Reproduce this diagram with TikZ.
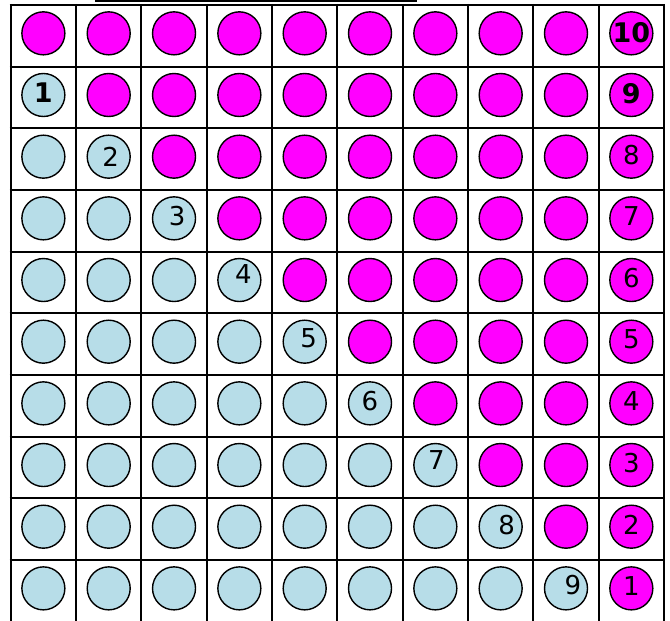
\documentclass[tikz,border=0pt]{standalone}
\usepackage{fontspec}
\setmainfont{DejaVu Sans}
\definecolor{mag}{HTML}{FF00FF}
\definecolor{lblue}{HTML}{B7DDE8}
\begin{document}
\begin{tikzpicture}[x=1pt,y=-1pt,
  gridline/.style={line width=2.2pt,black},
  dot/.style={circle,draw=black,line width=1.4pt,minimum size=43pt,inner sep=0pt},
  pinkdot/.style={dot,fill=mag},
  bluedot/.style={dot,fill=lblue},
  num/.style={font=\fontsize{26}{26}\selectfont,inner sep=0pt},
  bnum/.style={font=\fontsize{27}{27}\selectfont\bfseries,inner sep=0pt}]
\useasboundingbox (0,0) rectangle (670,621);
\def\xo{10.7}\def\cw{65.33}\def\yo{5}\def\rh{61.67}
% grid
\foreach \i in {0,...,10}{
  \draw[gridline] (\xo+\i*\cw,\yo-1.1) -- (\xo+\i*\cw,\yo+10*\rh+1.1);
  \draw[gridline] (\xo-1.1,\yo+\i*\rh) -- (\xo+10*\cw+1.1,\yo+\i*\rh);
}
% top line
\coordinate (tl1) at (95,1.2);
\coordinate (tl2) at (417,1.2);
\draw[line width=2.4pt] (tl1) -- (tl2);
% circles
\foreach \r in {1,...,10}{
  \foreach \c in {1,...,10}{
    \pgfmathsetmacro\cx{\xo+(\c-0.5)*\cw}
    \pgfmathsetmacro\cy{\yo+(\r-0.5)*\rh-2.5}
    \ifnum\c<\r
      \node[bluedot] (d-\r-\c) at (\cx,\cy) {};
    \else
      \node[pinkdot] (d-\r-\c) at (\cx,\cy) {};
    \fi
  }
}
% blue labels
\node[bnum] (b1) at ([shift={(0,-2)}]d-2-1.center) {1};
\node[num] (b2) at ([shift={(2,0)}]d-3-2.center) {2};
\node[num] (b3) at ([shift={(3,-2)}]d-4-3.center) {3};
\node[num] (b4) at ([shift={(4,-6)}]d-5-4.center) {4};
\node[num] (b5) at ([shift={(4,-3)}]d-6-5.center) {5};
\node[num] (b6) at ([shift={(0,-2)}]d-7-6.center) {6};
\node[num] (b7) at ([shift={(1,-5)}]d-8-7.center) {7};
\node[num] (b8) at ([shift={(6,-2)}]d-9-8.center) {8};
\node[num] (b9) at ([shift={(7,-3)}]d-10-9.center) {9};
% pink labels (right column)
\node[bnum] (p10) at ([shift={(0,-1)}]d-1-10.center) {10};
\node[bnum] (p9) at ([shift={(0,-1)}]d-2-10.center) {9};
\node[num] (p8) at ([shift={(0,-2)}]d-3-10.center) {8};
\node[num] (p7) at ([shift={(0,-2)}]d-4-10.center) {7};
\node[num] (p6) at ([shift={(0,-2)}]d-5-10.center) {6};
\node[num] (p5) at ([shift={(0,-2)}]d-6-10.center) {5};
\node[num] (p4) at ([shift={(0,-2)}]d-7-10.center) {4};
\node[num] (p3) at ([shift={(0,-2)}]d-8-10.center) {3};
\node[num] (p2) at ([shift={(0,-2)}]d-9-10.center) {2};
\node[num] (p1) at ([shift={(0,-2)}]d-10-10.center) {1};
\end{tikzpicture}
\end{document}
